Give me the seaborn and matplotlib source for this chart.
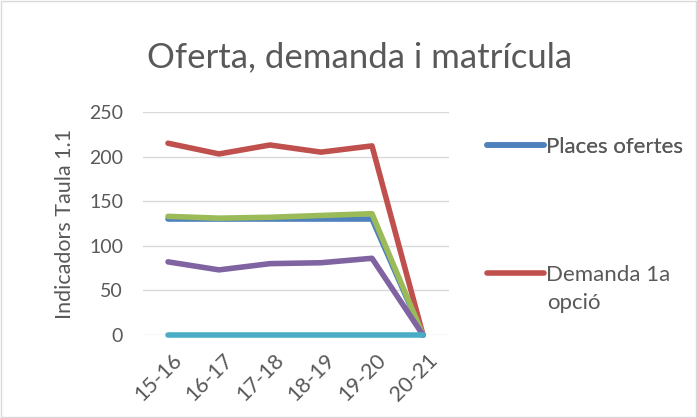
import numpy as np
import pandas as pd
import seaborn as sns
import matplotlib.pyplot as plt
import matplotlib.transforms as mtransforms
from matplotlib.lines import Line2D

# data
courses = ['15-16', '16-17', '17-18', '18-19', '19-20', '20-21']
places_ofertes = [130, 130, 130, 130, 130, 0]
demanda_1a = [215, 203, 213, 205, 212, 0]
serie_3 = [133, 131, 132, 134, 136, 0]
serie_4 = [82, 73, 80, 81, 86, 0]
serie_5 = [0, 0, 0, 0, 0, 0]

series_names = ['Places ofertes', 'Demanda 1a opció', 'Sèrie 3', 'Sèrie 4', 'Sèrie 5']
colors = ['#4F81BD', '#C0504D', '#9BBB59', '#8064A2', '#4BACC6']

# build a long table for seaborn
rows = []
for name, vals in zip(series_names, [places_ofertes, demanda_1a, serie_3, serie_4, serie_5]):
    for i, v in enumerate(vals):
        rows.append({'x': i, 'valor': v, 'serie': name})
df = pd.DataFrame(rows)

sns.set_style('white')
plt.rcParams['font.family'] = ['Lato', 'DejaVu Sans']
text_col = '#595959'
lw = 4.0

fig = plt.figure(figsize=(6.97, 4.18), dpi=100)
ax = fig.add_axes([142.5 / 697, 1 - 335 / 418, 306 / 697, 223 / 418])

sns.lineplot(data=df, x='x', y='valor', hue='serie', hue_order=series_names,
             palette=colors, linewidth=lw, legend=False, ax=ax)
# don't cut the flat line at zero in half
for line in ax.get_lines():
    line.set_clip_on(False)

ax.set_xlim(-0.5, 5.5)
ax.set_ylim(0, 250)
ax.set_yticks([0, 50, 100, 150, 200, 250])
ax.set_xticks(range(len(courses)))
ax.set_xticklabels(courses, rotation=45, ha='right', rotation_mode='anchor')
ax.tick_params(axis='both', length=0, labelsize=14, colors=text_col)
ax.tick_params(axis='x', labelsize=15.5, pad=11)
ax.tick_params(axis='y', pad=14)
# nudge the rotated labels a bit to the right
offset = mtransforms.ScaledTranslation(4 / 100, 0, fig.dpi_scale_trans)
for lab in ax.get_xticklabels():
    lab.set_transform(lab.get_transform() + offset)
ax.grid(axis='y', color='#D9D9D9', linewidth=1)
ax.set_axisbelow(True)
for s in ax.spines.values():
    s.set_visible(False)
ax.set_xlabel('')
ax.set_ylabel('Indicadors Taula 1.1', fontsize=15.5, color=text_col, labelpad=10)

fig.text(360 / 697, 1 - 57 / 418, 'Oferta, demanda i matrícula', fontsize=25,
         color=text_col, ha='center', va='center')

# legend only shows the first two series, like the original
h1 = [Line2D([], [], color=colors[0], linewidth=lw, solid_capstyle='round')]
h2 = [Line2D([], [], color=colors[1], linewidth=lw, solid_capstyle='round')]
leg1 = fig.legend(h1, ['Places ofertes'], loc='center left',
                  bbox_to_anchor=(467 / 697, 1 - 147 / 418), frameon=False,
                  fontsize=16, handlelength=2.55, handletextpad=0.1, labelcolor=text_col)
leg2 = fig.legend(h2, ['Demanda 1a'], loc='center left',
                  bbox_to_anchor=(467 / 697, 1 - 275 / 418), frameon=False,
                  fontsize=16, handlelength=2.55, handletextpad=0.1, labelcolor=text_col)
fig.add_artist(leg1)
# second line of the wrapped legend label
fig.text(547 / 697, 1 - 303 / 418, 'opció', fontsize=16, color=text_col,
         ha='left', va='center')

fig.patches.append(plt.Rectangle((0.002, 0.002), 0.996, 0.995, transform=fig.transFigure,
                                 fill=False, edgecolor='#D9D9D9', linewidth=1))

plt.savefig('out.png', dpi=100)
